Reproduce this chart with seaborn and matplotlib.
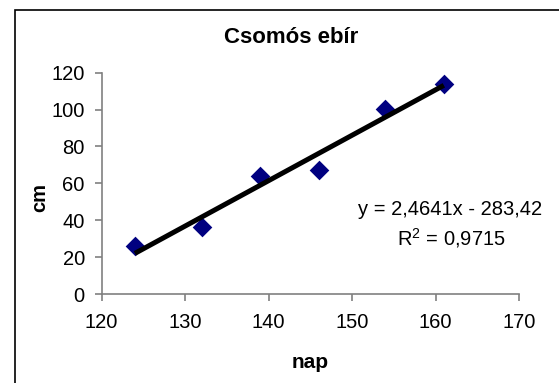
import matplotlib
matplotlib.use('Agg')
import matplotlib.pyplot as plt
import seaborn as sns
import pandas as pd

# data
nap = [124, 132, 139, 146, 154, 161]
cm = [26, 36.5, 64, 67, 100.5, 114]
x_ticks = [120, 130, 140, 150, 160, 170]
y_ticks = [0, 20, 40, 60, 80, 100, 120]
title = 'Csomós ebír'
eq_text = 'y = 2,4641x - 283,42'
r2_text = 'R$^2$ = 0,9715'

sns.set_style('white')
plt.rcParams['font.family'] = ['Liberation Sans', 'DejaVu Sans']
plt.rcParams['text.color'] = 'black'
plt.rcParams['mathtext.fontset'] = 'custom'
plt.rcParams['mathtext.rm'] = 'Liberation Sans'

df = pd.DataFrame({'nap': nap, 'cm': cm})

fig = plt.figure(figsize=(5.59, 3.83), dpi=100)
ax = fig.add_axes([101.5 / 559, 1 - 294 / 383, (519 - 101.5) / 559, (294 - 72.7) / 383])

sns.regplot(data=df, x='nap', y='cm', ax=ax, ci=None, marker='D',
            scatter_kws={'color': '#000080', 's': 100, 'linewidths': 0, 'alpha': 1, 'zorder': 2},
            line_kws={'color': 'black', 'lw': 3.6, 'zorder': 3, 'solid_capstyle': 'butt'})

ax.set_xlim(120, 170)
ax.set_ylim(0, 120)
ax.set_xticks(x_ticks)
ax.set_yticks(y_ticks)
ax.set_xlabel('')
ax.set_ylabel('')
sns.despine(ax=ax)
for s in ['left', 'bottom']:
    ax.spines[s].set_color('#808080')
    ax.spines[s].set_linewidth(1.2)
ax.tick_params(axis='both', direction='out', length=5, width=1.2, color='#808080',
               labelsize=14.5, labelcolor='black')
ax.tick_params(axis='x', pad=9, bottom=True)
ax.tick_params(axis='y', pad=7, left=True)

fig.text(291 / 559, 1 - 43.3 / 383, title, ha='center', va='baseline', fontsize=16, fontweight='bold')
fig.text(310.5 / 559, 1 - 368.3 / 383, 'nap', ha='center', va='baseline', fontsize=15, fontweight='bold')
fig.text(40 / 559, 1 - 183 / 383, 'cm', ha='right', va='center', fontsize=14.5, fontweight='bold',
         rotation=90, rotation_mode='anchor')
fig.text(450.5 / 559, 1 - 215 / 383, eq_text, ha='center', va='baseline', fontsize=14.5)
fig.text(451 / 559, 1 - 245 / 383, r2_text, ha='center', va='baseline', fontsize=14.5)

# chart border (runs off the right and bottom edge)
fig.patches.append(plt.Rectangle((15 / 559, -0.2), 1.2, 1 - 9.5 / 383 + 0.2,
                                 transform=fig.transFigure, fill=False, edgecolor='black', lw=1.2))

fig.savefig('out.png', dpi=100)
